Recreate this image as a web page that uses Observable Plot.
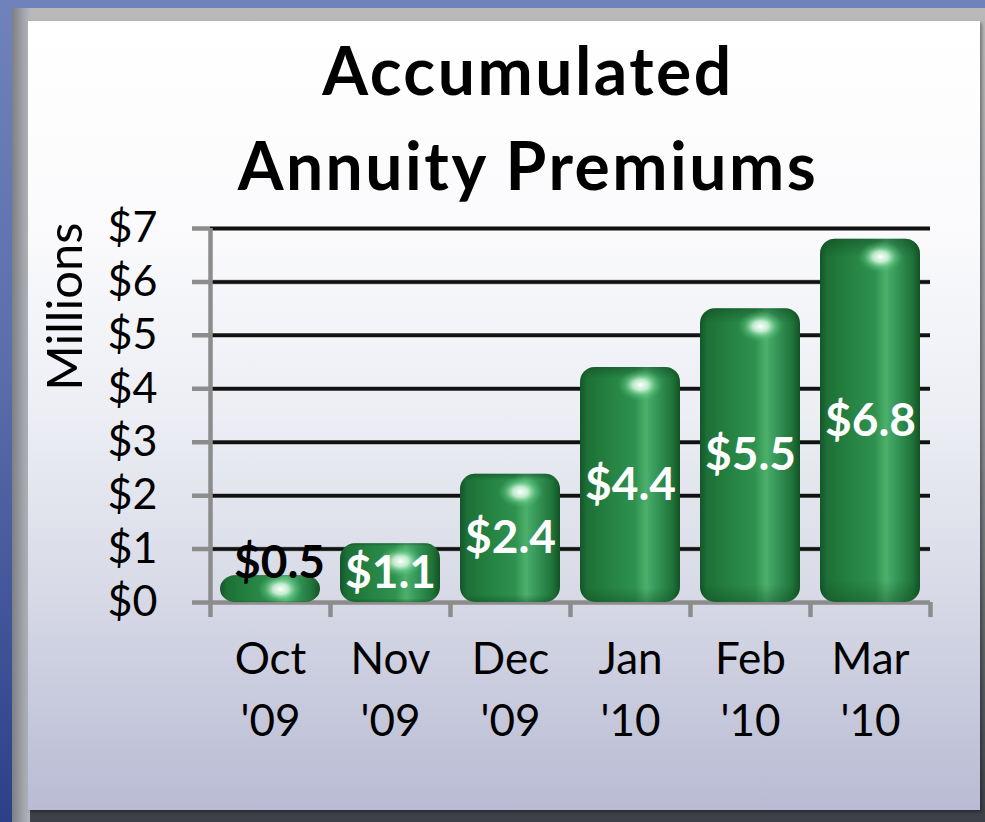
<!DOCTYPE html>
<html>
<head>
<meta charset="utf-8">
<script src="https://cdn.jsdelivr.net/npm/d3@7"></script>
<script src="https://cdn.jsdelivr.net/npm/@observablehq/plot@0.6"></script>
<style>
  html, body { margin: 0; padding: 0; }
  body {
    width: 985px; height: 822px; overflow: hidden; position: relative;
    background: linear-gradient(to bottom, #6f82ba 0%, #5a6eab 45%, #2b4089 100%);
    font-family: Lato, "Open Sans", sans-serif;
  }
  #frame {
    position: absolute; left: 12px; top: 8px; width: 973px; height: 814px;
    background: linear-gradient(to bottom, #b9b9b9 0%, #8d8f93 50%, #3d4047 100%);
  }
  #frame::before {
    content: ""; position: absolute; left: 0; top: 0; width: 18px; height: 100%;
    background: linear-gradient(to right, #7d7f85, #b6b8bf);
  }
  #panel {
    position: absolute; left: 16px; top: 13px; width: 952px; height: 789px;
    background: linear-gradient(to bottom, #ffffff 0%, #fbfbfd 25%, #eceef4 50%, #d8dae7 72%, #b8bbd3 100%);
    box-shadow: 2px 2px 3px rgba(0,0,0,0.35);
  }
  #title {
    position: absolute; left: 28px; top: 22px; width: 1000px; text-align: center;
    font-family: Lato, sans-serif; font-weight: 700; font-size: 66px; letter-spacing: 2.5px;
    line-height: 95px; color: #000;
  }
  #chart { position: absolute; left: 0; top: 0; }
</style>
</head>
<body>
<div id="frame"><div id="panel"></div></div>
<div id="title">Accumulated<br>Annuity Premiums</div>
<div id="chart"></div>
<script>
// ---- data ----
const months = ["Oct", "Nov", "Dec", "Jan", "Feb", "Mar"];
const years = ["'09", "'09", "'09", "'10", "'10", "'10"];
const premiums = [0.5, 1.1, 2.4, 4.4, 5.5, 6.8];
const yTicks = [0, 1, 2, 3, 4, 5, 6, 7];
const yAxisTitle = "Millions";

const data = months.map((m, i) => ({month: m, year: years[i], value: premiums[i]}));

// ---- layout ----
const W = 985, H = 822;
const mLeft = 192, mRight = 55, mTop = 228, mBottom = 220, tickLen = 18;
const step = (W - mLeft - tickLen - mRight) / months.length;
const fmt = v => "$" + d3.format(".1f")(v);

const chart = Plot.plot({
  width: W,
  height: H,
  marginLeft: mLeft,
  marginRight: mRight,
  marginTop: mTop,
  marginBottom: mBottom,
  style: {background: "transparent", fontFamily: "Lato, sans-serif", overflow: "visible"},
  x: {type: "band", domain: months, paddingInner: 0.17, paddingOuter: 0.085, insetLeft: tickLen, axis: null},
  y: {domain: [0, 7], axis: null},
  marks: [
    // gray tick stubs + base axis
    Plot.ruleY(yTicks, {y: d => d, stroke: "#8c8c8c", strokeWidth: 4.5}),
    // black gridlines
    Plot.ruleY(yTicks.filter(d => d > 0), {y: d => d, insetLeft: tickLen, stroke: "#111", strokeWidth: 3.5}),
    // vertical axis line
    Plot.ruleX([months[0]], {x: d => d, dx: -step / 2, y1: 7, y2: -0.28, stroke: "#8c8c8c", strokeWidth: 4.5}),
    // category boundary ticks
    Plot.ruleX(months, {x: d => d, dx: step / 2, y1: 0, y2: -0.28, stroke: "#8c8c8c", strokeWidth: 4.5}),
    // bars
    Plot.barY(data, {x: "month", y: "value", fill: "url(#barGrad)", rx: 15, ry: 15}),
    Plot.barY(data, {x: "month", y: "value", fill: "url(#barShade)", rx: 15, ry: 15}),
    // highlights
    Plot.dot(data, {x: "month", y: d => d.value - Math.min(d.value / 2, 0.33), dx: 10, r: 28, fill: "url(#hl)", stroke: null}),
    // y tick labels
    Plot.text(yTicks, {y: d => d, text: d => "$" + d, frameAnchor: "left", textAnchor: "end", dx: -35, fontSize: 43, fill: "#000"}),
    // y axis title
    Plot.text([yAxisTitle], {text: d => d, frameAnchor: "top-left", dx: -126, dy: -6, rotate: -90, textAnchor: "end", lineAnchor: "middle", fontSize: 49, letterSpacing: 2, fill: "#000"}),
    // x labels
    Plot.text(data, {x: "month", text: d => d.month + "\n" + d.year, frameAnchor: "bottom", dy: 83, lineAnchor: "middle", lineHeight: 1.4, fontSize: 44, fill: "#000"}),
    // value labels inside
    Plot.text(data.filter(d => d.value >= 1), {x: "month", y: d => d.value / 2, text: d => fmt(d.value), fill: "white", fontWeight: "bold", fontSize: 46}),
    // value labels above small bars
    Plot.text(data.filter(d => d.value < 1), {x: "month", y: "value", dy: -13, dx: 9, text: d => fmt(d.value), fill: "black", fontWeight: "bold", fontSize: 46})
  ]
});

// gradient defs
const svg = d3.select(chart.tagName.toLowerCase() === "svg" ? chart : chart.querySelector("svg"));
const defs = svg.insert("defs", ":first-child");
const g1 = defs.append("linearGradient").attr("id", "barGrad").attr("x1", 0).attr("x2", 1).attr("y1", 0).attr("y2", 0);
[[0, "#14552a"], [0.07, "#1d7036"], [0.3, "#258242"], [0.55, "#2f9150"], [0.66, "#4cb06c"], [0.76, "#37985a"], [0.93, "#1e7137"], [1, "#135226"]]
  .forEach(([o, c]) => g1.append("stop").attr("offset", o).attr("stop-color", c));
const g2 = defs.append("linearGradient").attr("id", "barShade").attr("x1", 0).attr("x2", 0).attr("y1", 0).attr("y2", 1);
[[0, "#0b3d1a", 0.45], [0.05, "#0b3d1a", 0.0], [0.94, "#0b3d1a", 0.0], [1, "#0b3d1a", 0.35]]
  .forEach(([o, c, a]) => g2.append("stop").attr("offset", o).attr("stop-color", c).attr("stop-opacity", a));
const g3 = defs.append("radialGradient").attr("id", "hl").attr("cx", 0.5).attr("cy", 0.5).attr("r", 0.5)
  .attr("gradientTransform", "translate(0.5,0.5) scale(0.8,0.55) translate(-0.5,-0.5)");
[[0, "#ffffff", 1], [0.35, "#d6f8e0", 0.85], [0.7, "#7adc98", 0.35], [1, "#5fd080", 0]]
  .forEach(([o, c, a]) => g3.append("stop").attr("offset", o).attr("stop-color", c).attr("stop-opacity", a));

document.getElementById("chart").appendChild(chart);
</script>
</body>
</html>
